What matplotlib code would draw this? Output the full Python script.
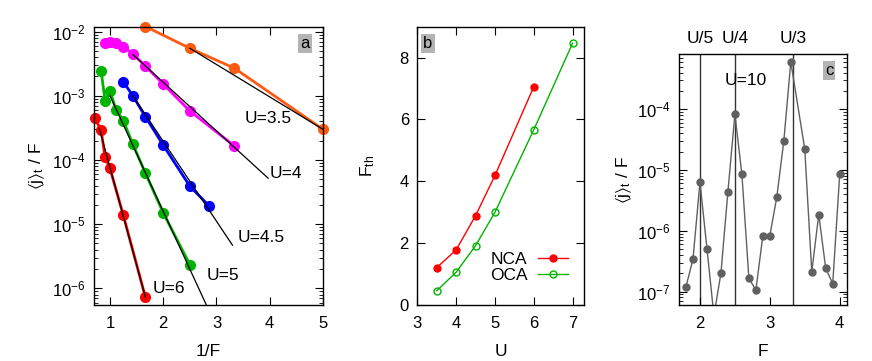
import numpy as np
import matplotlib
matplotlib.use("Agg")
import matplotlib.pyplot as plt
from matplotlib.ticker import LogLocator, LogFormatterMathtext, NullFormatter

plt.rcParams['font.family'] = ['Liberation Sans', 'DejaVu Sans']
plt.rcParams['mathtext.fontset'] = 'custom'
plt.rcParams['mathtext.rm'] = 'Liberation Sans'
plt.rcParams['mathtext.it'] = 'Liberation Sans:italic'
plt.rcParams['mathtext.default'] = 'regular'
plt.rcParams['font.size'] = 12

# ---------------- Panel a data ----------------
F_u35 = [0.6, 0.4, 0.3, 0.2]
j_u35 = [1.2e-2, 5.5e-3, 2.7e-3, 3.0e-4]
F_u4 = [1.1, 1.0, 0.9, 0.8, 0.7, 0.6, 0.5, 0.4, 0.3]
j_u4 = [6.6e-3, 7.0e-3, 6.6e-3, 5.8e-3, 4.5e-3, 2.9e-3, 1.52e-3, 5.8e-4, 1.66e-4]
F_u45 = [0.8, 0.7, 0.6, 0.5, 0.4, 0.35]
j_u45 = [1.66e-3, 1.0e-3, 4.7e-4, 1.7e-4, 3.9e-5, 1.94e-5]
F_u5 = [1.2, 1.1, 1.0, 0.9, 0.8, 0.7, 0.6, 0.5, 0.4]
j_u5 = [2.43e-3, 8.3e-4, 1.2e-3, 6.1e-4, 4.1e-4, 1.77e-4, 6.2e-5, 1.5e-5, 2.34e-6]
F_u6 = [1.4, 1.2, 1.1, 1.0, 0.8, 0.6]
j_u6 = [4.5e-4, 2.9e-4, 1.1e-4, 7.4e-5, 1.38e-5, 7.2e-7]

# fit lines (1/F endpoints, current endpoints)
fit_x = {'3.5': [2.5, 5.0], '4': [1.43, 3.97], '4.5': [1.43, 3.30], '5': [1.0, 2.81], '6': [0.80, 1.667]}
fit_y = {'3.5': [5.5e-3, 3.0e-4], '4': [4.4e-3, 5.2e-5], '4.5': [1.0e-3, 4.7e-6], '5': [1.0e-3, 5.5e-7], '6': [3.1e-4, 7.2e-7]}

labels_a = ['U=3.5', 'U=4', 'U=4.5', 'U=5', 'U=6']
label_x = [3.53, 4.0, 3.40, 2.81, 1.81]
label_y = [4.4e-4, 6.1e-5, 6.3e-6, 1.6e-6, 1.0e-6]

# ---------------- Panel b data ----------------
U_b = [3.5, 4.0, 4.5, 5.0, 6.0, 7.0]
Fth_nca = [1.21, 1.78, 2.89, 4.19, 7.06]
Fth_oca = [0.46, 1.06, 1.92, 3.00, 5.67, 8.47]

# ---------------- Panel c data ----------------
F_c = [1.8, 1.9, 2.0, 2.1, 2.2, 2.3, 2.4, 2.5, 2.6, 2.7, 2.8, 2.9, 3.0, 3.1, 3.2, 3.3,
       3.5, 3.6, 3.7, 3.8, 3.9, 4.0]
j_c = [1.2e-7, 3.4e-7, 6.3e-6, 5.1e-7, 4.0e-8, 2.0e-7, 4.4e-6, 8.3e-5, 8.5e-6, 1.66e-7,
       1.05e-7, 8.3e-7, 8.3e-7, 3.6e-6, 3.0e-5, 6.0e-4,
       2.2e-5, 2.1e-7, 1.85e-6, 2.4e-7, 1.35e-7, 8.5e-6]
vlines_c = [2.0, 2.5, 10.0 / 3.0]
vlabels_c = ['U/5', 'U/4', 'U/3']

W, H = 872, 361
fig = plt.figure(figsize=(W / 100, H / 100), dpi=100)

def add_ax(l, r, t, b):
    return fig.add_axes([l / W, 1 - b / H, (r - l) / W, (b - t) / H])

def style(ax, top=True):
    ax.tick_params(which='both', direction='in', top=top, right=True, labelsize=12)
    ax.tick_params(axis='x', pad=8)
    ax.tick_params(axis='y', pad=6)
    ax.tick_params(which='major', length=6, width=0.8)
    ax.tick_params(which='minor', length=3, width=0.6)
    for s in ax.spines.values():
        s.set_linewidth(1.0)

def tag(ax, s, x, y):
    ax.text(x, y, s, transform=ax.transAxes, ha='center', va='center', fontsize=12,
            bbox=dict(boxstyle='square,pad=0.12', fc='#b4b4b4', ec='none'))

# ---------------- Panel a ----------------
axa = add_ax(94, 323, 27, 305)
series = [(F_u35, j_u35, '#ff5a14', '3.5'), (F_u4, j_u4, '#ff00ff', '4'),
          (F_u45, j_u45, '#0000ff', '4.5'), (F_u5, j_u5, '#00b400', '5'),
          (F_u6, j_u6, '#ff0000', '6')]
for F, j, c, key in series:
    axa.plot(1.0 / np.array(F), j, '-o', color=c, lw=2.0, ms=7, clip_on=False, zorder=2)
    axa.plot(fit_x[key], fit_y[key], '-', color='black', lw=0.9, zorder=3)
for s, x, y in zip(labels_a, label_x, label_y):
    axa.text(x, y, s, ha='left', va='center', fontsize=12.5)
axa.set_yscale('log')
axa.set_xlim(0.7, 5)
axa.set_ylim(5.5e-7, 1.18e-2)
axa.set_xticks([1, 2, 3, 4, 5])
axa.yaxis.set_major_locator(LogLocator(base=10, numticks=20))
axa.yaxis.set_major_formatter(LogFormatterMathtext())
axa.yaxis.set_minor_locator(LogLocator(base=10, subs=np.arange(2, 10), numticks=20))
axa.yaxis.set_minor_formatter(NullFormatter())
style(axa)
axa.set_xlabel('1/F', fontsize=12.5, labelpad=9)
axa.set_ylabel(r'$\langle$j$\rangle_{t}$ / F', fontsize=12.5, labelpad=4)
tag(axa, 'a', 0.921, 0.939)

# ---------------- Panel b ----------------
axb = add_ax(417.3, 584.3, 26.7, 305)
axb.plot(U_b[:len(Fth_nca)], Fth_nca, '-o', color='#ff0000', lw=1.0, ms=5, label='NCA')
axb.plot(U_b, Fth_oca, '-o', color='#00b400', lw=1.0, ms=5, mfc='none', mew=1.0, label='OCA')
axb.set_xlim(3, 7.3)
axb.set_ylim(0, 9)
axb.set_xticks([3, 4, 5, 6, 7])
axb.set_yticks([0, 2, 4, 6, 8])
style(axb)
axb.set_xlabel('U', fontsize=12.5, labelpad=9)
axb.set_ylabel(r'F$_{th}$', fontsize=12.5, labelpad=16)
axb.legend(loc='upper right', bbox_to_anchor=(0.90, 0.19), frameon=False, markerfirst=False,
           handlelength=1.7, handletextpad=0.6, labelspacing=0.05, borderpad=0, borderaxespad=0,
           fontsize=12.5)
tag(axb, 'b', 0.064, 0.939)

# ---------------- Panel c ----------------
axc = add_ax(679, 846.7, 54.3, 305)
for v, s in zip(vlines_c, vlabels_c):
    axc.axvline(v, color='#333333', lw=1.0, zorder=1)
    axc.text(v, 1.064, s, transform=axc.get_xaxis_transform(), ha='center', va='center', fontsize=12.5)
axc.plot(F_c, j_c, '-o', color='#606060', lw=1.0, ms=5, zorder=2)
axc.set_yscale('log')
axc.set_xlim(1.7, 4.1)
axc.set_ylim(6e-8, 8e-4)
axc.set_xticks([2, 3, 4])
axc.yaxis.set_major_locator(LogLocator(base=10, numticks=20))
axc.yaxis.set_major_formatter(LogFormatterMathtext())
axc.yaxis.set_minor_locator(LogLocator(base=10, subs=np.arange(2, 10), numticks=20))
axc.yaxis.set_minor_formatter(NullFormatter())
style(axc, top=False)
axc.set_xlabel('F', fontsize=12.5, labelpad=9)
axc.set_ylabel(r'$\langle$j$\rangle_{t}$ / F', fontsize=12.5, labelpad=2)
axc.text(0.40, 0.897, 'U=10', transform=axc.transAxes, ha='center', va='center', fontsize=12.5)
tag(axc, 'c', 0.896, 0.937)

fig.savefig('out.png', dpi=100)
